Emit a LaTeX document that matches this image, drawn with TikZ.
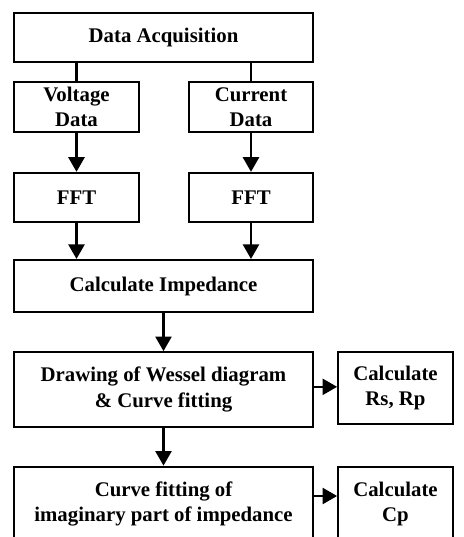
\documentclass[tikz,border=0pt]{standalone}
\usepackage{fontspec}
\setmainfont{Liberation Serif}
\usetikzlibrary{arrows.meta}

\tikzset{
  block/.style={draw, line width=1.5pt, align=center, inner sep=2pt,
    font=\fontsize{15.6}{19}\selectfont\bfseries},
  link/.style={line width=2pt},
  flow/.style={link, -{Triangle[width=12pt,length=11pt]}}
}

\begin{document}
\begin{tikzpicture}[x=0.75pt, y=-0.75pt]
  \clip (0,0) rectangle (464,537);
  %
  \node[block, minimum width=224pt, minimum height=37pt] (acq) at (163.5,37.5) {Data Acquisition};
  %
  \node[block, minimum width=94pt, minimum height=37.5pt] (volt) at (76.5,107) {Voltage\\Data};
  \node[block, minimum width=93pt, minimum height=37.5pt] (curr) at (251,107) {Current\\Data};
  %
  \node[block, minimum width=94pt, minimum height=37pt] (fftv) at (76.5,197.5) {FFT};
  \node[block, minimum width=93pt, minimum height=37pt] (ffti) at (251,197.5) {FFT};
  %
  \node[block, minimum width=224pt, minimum height=39pt] (imp) at (163.5,286) {Calculate Impedance};
  %
  \node[block, minimum width=224pt, minimum height=56pt] (wessel) at (163.5,389.5) {Drawing of Wessel diagram\\\& Curve fitting};
  \node[block, minimum width=86pt, minimum height=54pt] (rsrp) at (395.5,388) {Calculate\\Rs, Rp};
  %
  \node[block, minimum width=224pt, minimum height=56pt] (imag) at (163.5,504) {Curve fitting of\\imaginary part of impedance};
  \node[block, minimum width=86pt, minimum height=56pt] (cp) at (395.5,504) {Calculate\\Cp};
  %
  \draw[link] (volt.north |- acq.south) -- (volt.north);
  \draw[link] (curr.north |- acq.south) -- (curr.north);
  %
  \draw[flow] (volt) -- (fftv);
  \draw[flow] (curr) -- (ffti);
  \draw[flow] (fftv.south) -- (fftv.south |- imp.north);
  \draw[flow] (ffti.south) -- (ffti.south |- imp.north);
  %
  \draw[flow] (imp) -- (wessel);
  \draw[flow] (wessel) -- (imag);
  %
  \draw[flow] ([yshift=2pt]wessel.east) -- ([yshift=2pt]wessel.east -| rsrp.west);
  \draw[flow] ([yshift=6pt]imag.east) -- ([yshift=6pt]cp.west);
\end{tikzpicture}
\end{document}
